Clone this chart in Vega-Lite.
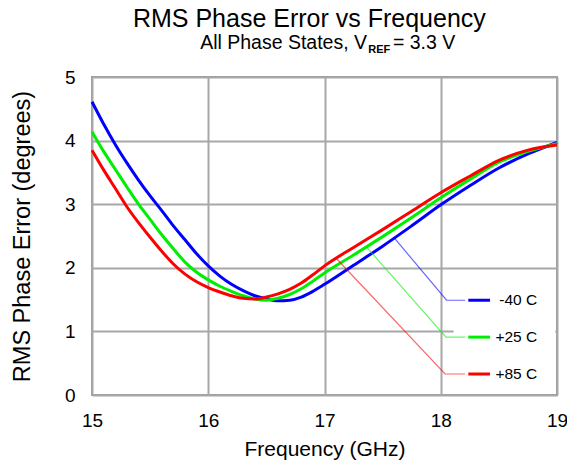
{
  "$schema": "https://vega.github.io/schema/vega-lite/v6.json",
  "width": 465,
  "height": 318,
  "autosize": "none",
  "padding": {"left": 92, "top": 77, "right": 10, "bottom": 72},
  "background": "white",
  "config": {
    "font": "Liberation Sans",
    "view": {"stroke": "#9a9a9a", "strokeWidth": 2},
    "axis": {
      "grid": true,
      "gridColor": "#a8a8a8",
      "gridWidth": 2,
      "gridOpacity": 1,
      "ticks": false,
      "tickSize": 0,
      "domain": false,
      "labelFlush": false,
      "labelColor": "#000000",
      "titleColor": "#000000",
      "titleFontWeight": "normal",
      "labelFont": "Liberation Sans",
      "titleFont": "Liberation Sans"
    }
  },
  "datasets": {
    "curves": [
      {"s": "-40 C", "f": 15.0, "v": 4.61}, {"s": "-40 C", "f": 15.1, "v": 4.26}, {"s": "-40 C", "f": 15.2, "v": 3.94},
      {"s": "-40 C", "f": 15.3, "v": 3.65}, {"s": "-40 C", "f": 15.4, "v": 3.38}, {"s": "-40 C", "f": 15.5, "v": 3.13},
      {"s": "-40 C", "f": 15.6, "v": 2.9}, {"s": "-40 C", "f": 15.7, "v": 2.66}, {"s": "-40 C", "f": 15.8, "v": 2.44},
      {"s": "-40 C", "f": 15.9, "v": 2.22}, {"s": "-40 C", "f": 16.0, "v": 2.03}, {"s": "-40 C", "f": 16.1, "v": 1.87},
      {"s": "-40 C", "f": 16.2, "v": 1.74}, {"s": "-40 C", "f": 16.3, "v": 1.64}, {"s": "-40 C", "f": 16.4, "v": 1.56},
      {"s": "-40 C", "f": 16.5, "v": 1.51}, {"s": "-40 C", "f": 16.6, "v": 1.48}, {"s": "-40 C", "f": 16.7, "v": 1.49},
      {"s": "-40 C", "f": 16.8, "v": 1.54}, {"s": "-40 C", "f": 16.9, "v": 1.63}, {"s": "-40 C", "f": 17.0, "v": 1.74},
      {"s": "-40 C", "f": 17.25, "v": 2.04}, {"s": "-40 C", "f": 17.5, "v": 2.34}, {"s": "-40 C", "f": 17.75, "v": 2.66},
      {"s": "-40 C", "f": 18.0, "v": 2.99}, {"s": "-40 C", "f": 18.25, "v": 3.29}, {"s": "-40 C", "f": 18.5, "v": 3.57},
      {"s": "-40 C", "f": 18.75, "v": 3.79}, {"s": "-40 C", "f": 19.0, "v": 3.97},
      {"s": "+25 C", "f": 15.0, "v": 4.14}, {"s": "+25 C", "f": 15.1, "v": 3.83}, {"s": "+25 C", "f": 15.2, "v": 3.55},
      {"s": "+25 C", "f": 15.3, "v": 3.27}, {"s": "+25 C", "f": 15.4, "v": 3.0}, {"s": "+25 C", "f": 15.5, "v": 2.76},
      {"s": "+25 C", "f": 15.6, "v": 2.52}, {"s": "+25 C", "f": 15.7, "v": 2.3}, {"s": "+25 C", "f": 15.8, "v": 2.09},
      {"s": "+25 C", "f": 15.9, "v": 1.93}, {"s": "+25 C", "f": 16.0, "v": 1.81}, {"s": "+25 C", "f": 16.1, "v": 1.71},
      {"s": "+25 C", "f": 16.2, "v": 1.63}, {"s": "+25 C", "f": 16.3, "v": 1.56}, {"s": "+25 C", "f": 16.4, "v": 1.51},
      {"s": "+25 C", "f": 16.5, "v": 1.49}, {"s": "+25 C", "f": 16.6, "v": 1.52}, {"s": "+25 C", "f": 16.7, "v": 1.58},
      {"s": "+25 C", "f": 16.8, "v": 1.67}, {"s": "+25 C", "f": 16.9, "v": 1.79}, {"s": "+25 C", "f": 17.0, "v": 1.92},
      {"s": "+25 C", "f": 17.25, "v": 2.2}, {"s": "+25 C", "f": 17.5, "v": 2.49}, {"s": "+25 C", "f": 17.75, "v": 2.79},
      {"s": "+25 C", "f": 18.0, "v": 3.1}, {"s": "+25 C", "f": 18.25, "v": 3.39}, {"s": "+25 C", "f": 18.5, "v": 3.66},
      {"s": "+25 C", "f": 18.75, "v": 3.83}, {"s": "+25 C", "f": 19.0, "v": 3.95},
      {"s": "+85 C", "f": 15.0, "v": 3.85}, {"s": "+85 C", "f": 15.1, "v": 3.54}, {"s": "+85 C", "f": 15.2, "v": 3.25},
      {"s": "+85 C", "f": 15.3, "v": 2.96}, {"s": "+85 C", "f": 15.4, "v": 2.71}, {"s": "+85 C", "f": 15.5, "v": 2.48},
      {"s": "+85 C", "f": 15.6, "v": 2.26}, {"s": "+85 C", "f": 15.7, "v": 2.06}, {"s": "+85 C", "f": 15.8, "v": 1.9},
      {"s": "+85 C", "f": 15.9, "v": 1.78}, {"s": "+85 C", "f": 16.0, "v": 1.69}, {"s": "+85 C", "f": 16.1, "v": 1.62},
      {"s": "+85 C", "f": 16.2, "v": 1.56}, {"s": "+85 C", "f": 16.3, "v": 1.52}, {"s": "+85 C", "f": 16.4, "v": 1.51},
      {"s": "+85 C", "f": 16.5, "v": 1.54}, {"s": "+85 C", "f": 16.6, "v": 1.59}, {"s": "+85 C", "f": 16.7, "v": 1.66},
      {"s": "+85 C", "f": 16.8, "v": 1.76}, {"s": "+85 C", "f": 16.9, "v": 1.89}, {"s": "+85 C", "f": 17.0, "v": 2.03},
      {"s": "+85 C", "f": 17.25, "v": 2.32}, {"s": "+85 C", "f": 17.5, "v": 2.6}, {"s": "+85 C", "f": 17.75, "v": 2.89},
      {"s": "+85 C", "f": 18.0, "v": 3.18}, {"s": "+85 C", "f": 18.25, "v": 3.44}, {"s": "+85 C", "f": 18.5, "v": 3.69},
      {"s": "+85 C", "f": 18.75, "v": 3.85}, {"s": "+85 C", "f": 19.0, "v": 3.93}
    ],
    "leaders": [
      {"s": "-40 C", "o": 1, "f": 17.6, "v": 2.47}, {"s": "-40 C", "o": 2, "f": 18.05, "v": 1.49}, {"s": "-40 C", "o": 3, "f": 18.21, "v": 1.49},
      {"s": "+25 C", "o": 1, "f": 17.36, "v": 2.33}, {"s": "+25 C", "o": 2, "f": 18.045, "v": 0.91}, {"s": "+25 C", "o": 3, "f": 18.21, "v": 0.91},
      {"s": "+85 C", "o": 1, "f": 17.1, "v": 2.15}, {"s": "+85 C", "o": 2, "f": 18.037, "v": 0.33}, {"s": "+85 C", "o": 3, "f": 18.21, "v": 0.33}
    ],
    "keys": [
      {"s": "-40 C", "f": 18.237, "f2": 18.424, "v": 1.49, "label": "-40 C", "lx": 18.83},
      {"s": "+25 C", "f": 18.237, "f2": 18.424, "v": 0.91, "label": "+25 C", "lx": 18.83},
      {"s": "+85 C", "f": 18.237, "f2": 18.424, "v": 0.33, "label": "+85 C", "lx": 18.83}
    ],
    "box": [{"f": 18.11, "f2": 18.985, "v": 0.05, "v2": 1.75}],
    "maintitle": [{"f": 16.87, "v": 5.78, "t": "RMS Phase Error vs Frequency"}],
    "subleft": [{"f": 17.366, "v": 5.433, "t": "All Phase States, V"}],
    "subright": [{"f": 17.589, "v": 5.433, "t": "= 3.3 V"}],
    "subref": [{"f": 17.376, "v": 5.37, "t": "REF"}]
  },
  "encoding": {
    "x": {
      "field": "f",
      "type": "quantitative",
      "scale": {"domain": [15, 19], "nice": false, "zero": false},
      "axis": {
        "values": [15, 16, 17, 18, 19],
        "labelFontSize": 19,
        "labelPadding": 16,
        "title": "Frequency (GHz)",
        "titleFontSize": 21,
        "titlePadding": 8
      }
    },
    "y": {
      "field": "v",
      "type": "quantitative",
      "scale": {"domain": [0, 5], "nice": false, "zero": false},
      "axis": {
        "values": [0, 1, 2, 3, 4, 5],
        "labelFontSize": 19,
        "labelPadding": 17,
        "title": "RMS Phase Error (degrees)",
        "titleFontSize": 23.5,
        "titlePadding": 30
      }
    }
  },
  "layer": [
    {
      "data": {"name": "box"},
      "mark": {"type": "rect", "fill": "white", "stroke": null},
      "encoding": {"x2": {"field": "f2"}, "y2": {"field": "v2"}}
    },
    {
      "data": {"name": "curves"},
      "mark": {"type": "line", "strokeWidth": 3, "interpolate": "monotone"},
      "encoding": {
        "color": {
          "field": "s",
          "type": "nominal",
          "scale": {"domain": ["-40 C", "+25 C", "+85 C"], "range": ["#0000ff", "#00ee00", "#ff0000"]},
          "legend": null
        }
      }
    },
    {
      "data": {"name": "leaders"},
      "mark": {"type": "line", "strokeWidth": 1.2, "opacity": 0.6},
      "encoding": {
        "color": {"field": "s", "type": "nominal", "legend": null},
        "order": {"field": "o", "type": "quantitative"}
      }
    },
    {
      "data": {"name": "keys"},
      "mark": {"type": "rule", "strokeWidth": 3},
      "encoding": {
        "x2": {"field": "f2"},
        "color": {"field": "s", "type": "nominal", "legend": null}
      }
    },
    {
      "data": {"name": "keys"},
      "mark": {"type": "text", "align": "right", "baseline": "middle", "fontSize": 15.5, "color": "#000000"},
      "encoding": {
        "x": {"field": "lx", "type": "quantitative"},
        "text": {"field": "label"}
      }
    },
    {
      "data": {"name": "maintitle"},
      "mark": {"type": "text", "align": "center", "baseline": "alphabetic", "fontSize": 25, "color": "#000000"},
      "encoding": {"text": {"field": "t"}}
    },
    {
      "data": {"name": "subleft"},
      "mark": {"type": "text", "align": "right", "baseline": "alphabetic", "fontSize": 19.5, "color": "#000000"},
      "encoding": {"text": {"field": "t"}}
    },
    {
      "data": {"name": "subright"},
      "mark": {"type": "text", "align": "left", "baseline": "alphabetic", "fontSize": 19.5, "color": "#000000"},
      "encoding": {"text": {"field": "t"}}
    },
    {
      "data": {"name": "subref"},
      "mark": {"type": "text", "align": "left", "baseline": "alphabetic", "fontSize": 11, "fontWeight": "bold", "color": "#000000"},
      "encoding": {"text": {"field": "t"}}
    }
  ]
}
